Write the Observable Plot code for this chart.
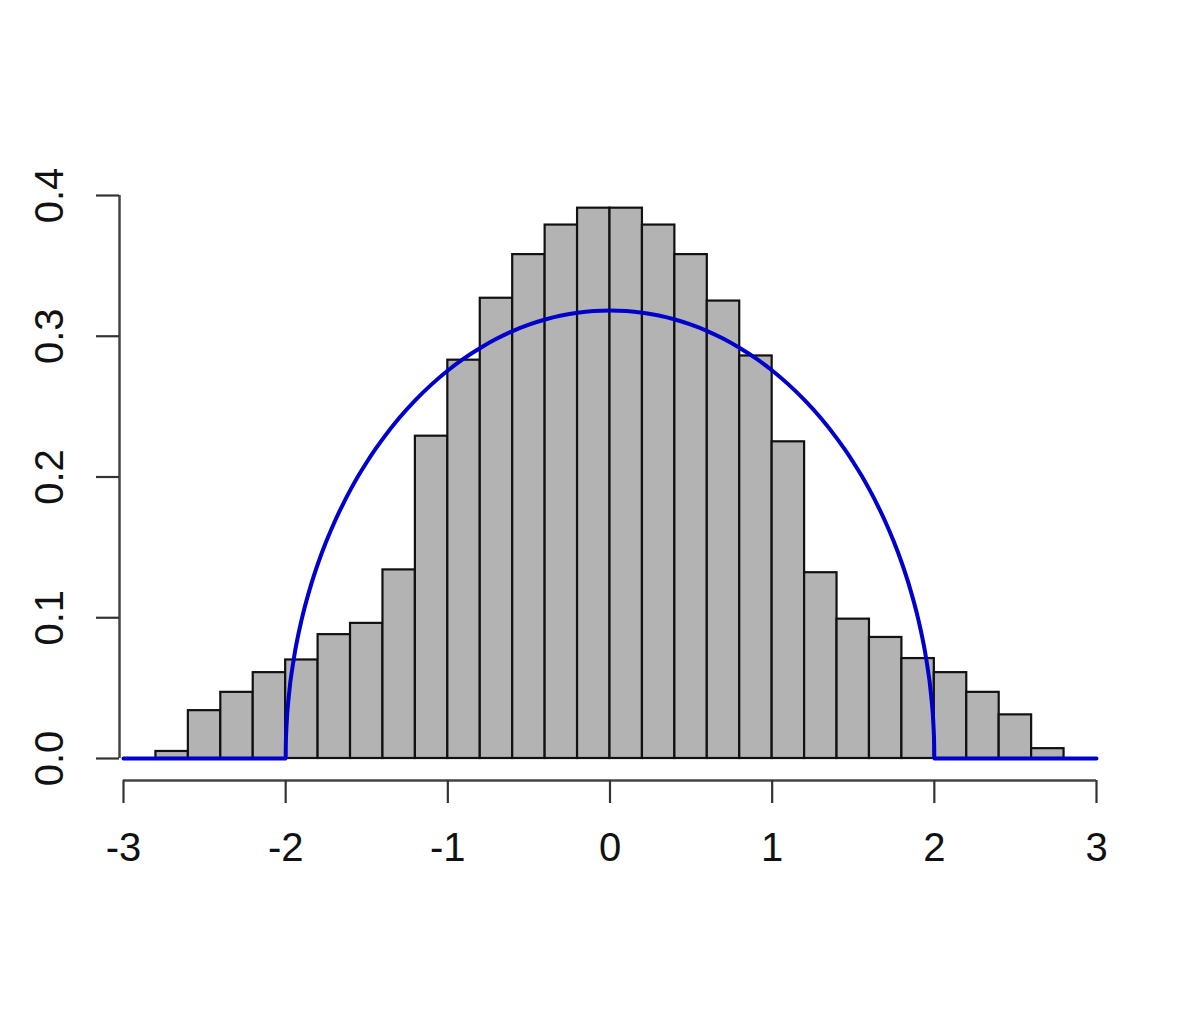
<!DOCTYPE html>
<html>
<head>
<meta charset="utf-8">
<script src="https://cdn.jsdelivr.net/npm/d3@7"></script>
<script src="https://cdn.jsdelivr.net/npm/@observablehq/plot@0.6"></script>
<style>
  html, body { margin: 0; padding: 0; background: #ffffff; }
  svg { display: block; }
</style>
</head>
<body>
<div id="chart"></div>
<script>
// Histogram bin edges (29 edges -> 28 bins of width 0.2)
const binEdges = [-2.8, -2.6, -2.4, -2.2, -2.0, -1.8, -1.6, -1.4, -1.2, -1.0, -0.8, -0.6, -0.4, -0.2, 0.0,
                  0.2, 0.4, 0.6, 0.8, 1.0, 1.2, 1.4, 1.6, 1.8, 2.0, 2.2, 2.4, 2.6, 2.8];
// Density of each bin
const density = [0.005, 0.034, 0.047, 0.061, 0.070, 0.088, 0.096, 0.134, 0.229, 0.283, 0.327, 0.358, 0.379, 0.391,
                 0.391, 0.379, 0.358, 0.325, 0.286, 0.225, 0.132, 0.099, 0.086, 0.071, 0.061, 0.047, 0.031, 0.007];

// Blue density curve
const curveX = [-3, -2, -1.999, -1.995, -1.98, -1.95, -1.9, -1.85, -1.8, -1.75, -1.7, -1.65, -1.6, -1.55, -1.5, -1.45,
                -1.4, -1.3, -1.2, -1.1, -1.0, -0.9, -0.8, -0.7, -0.6, -0.5, -0.4, -0.3, -0.2, -0.1, 0,
                0.1, 0.2, 0.3, 0.4, 0.5, 0.6, 0.7, 0.8, 0.9, 1.0, 1.1, 1.2, 1.3, 1.4,
                1.45, 1.5, 1.55, 1.6, 1.65, 1.7, 1.75, 1.8, 1.85, 1.9, 1.95, 1.98, 1.995, 1.999, 2, 3];
const curveY = [0, 0, 0.010, 0.0225, 0.045, 0.0707, 0.0994, 0.1209, 0.1387, 0.1541, 0.1677, 0.1799, 0.1910, 0.2012, 0.2105, 0.2192,
                0.2273, 0.2419, 0.2546, 0.2658, 0.2757, 0.2843, 0.2917, 0.2982, 0.3037, 0.3082, 0.3119, 0.3147, 0.3167, 0.3179, 0.3183,
                0.3179, 0.3167, 0.3147, 0.3119, 0.3082, 0.3037, 0.2982, 0.2917, 0.2843, 0.2757, 0.2658, 0.2546, 0.2419, 0.2273,
                0.2192, 0.2105, 0.2012, 0.1910, 0.1799, 0.1677, 0.1541, 0.1387, 0.1209, 0.0994, 0.0707, 0.045, 0.0225, 0.010, 0, 0];

const xTicks = [-3, -2, -1, 0, 1, 2, 3];
const yTicks = [0.0, 0.1, 0.2, 0.3, 0.4];
const yTickLabels = ["0.0", "0.1", "0.2", "0.3", "0.4"];

const bins = density.map((d, i) => ({x1: binEdges[i], x2: binEdges[i + 1], y: d}));
const curve = curveX.map((x, i) => ({x, y: curveY[i]}));
const yLab = yTicks.map((v, i) => ({v, t: yTickLabels[i]}));

const font = "'Liberation Sans', Arial, sans-serif";

const chart = Plot.plot({
  width: 1196,
  height: 1012,
  marginLeft: 123,
  marginRight: 100,
  marginTop: 195,
  marginBottom: 254,
  style: {background: "#ffffff", fontFamily: font},
  x: {domain: [-3, 3], axis: null},
  y: {domain: [0, 0.4], axis: null},
  marks: [
    Plot.rectY(bins, {x1: "x1", x2: "x2", y: "y", fill: "#b3b3b3", stroke: "#111111", strokeWidth: 2.2}),
    Plot.line(curve, {x: "x", y: "y", stroke: "#0000cd", strokeWidth: 4, curve: "monotone-x"}),
    // x axis (R style, offset below the plot)
    Plot.ruleY([0], {dy: 22, stroke: "#444444", strokeWidth: 2.5}),
    Plot.axisX({ticks: xTicks, tickSize: 23, dy: 22, tickFormat: () => "", stroke: "#333333", strokeWidth: 2.2, label: null}),
    Plot.text(xTicks, {x: d => d, frameAnchor: "bottom", dy: 90, text: d => String(d), fontSize: 40,
                       lineAnchor: "middle", textAnchor: "middle", fill: "#111111", fontFamily: font}),
    // y axis
    Plot.ruleX([-3], {y1: 0, y2: 0.4, dx: -4, stroke: "#444444", strokeWidth: 2.5}),
    Plot.axisY({ticks: yTicks, tickSize: 23, dx: -4, tickFormat: () => "", stroke: "#333333", strokeWidth: 2.2, label: null}),
    Plot.text(yLab, {y: "v", text: "t", frameAnchor: "left", dx: -73, rotate: -90, fontSize: 40,
                     lineAnchor: "middle", textAnchor: "middle", fill: "#111111", fontFamily: font})
  ]
});

document.getElementById("chart").appendChild(chart);
</script>
</body>
</html>
